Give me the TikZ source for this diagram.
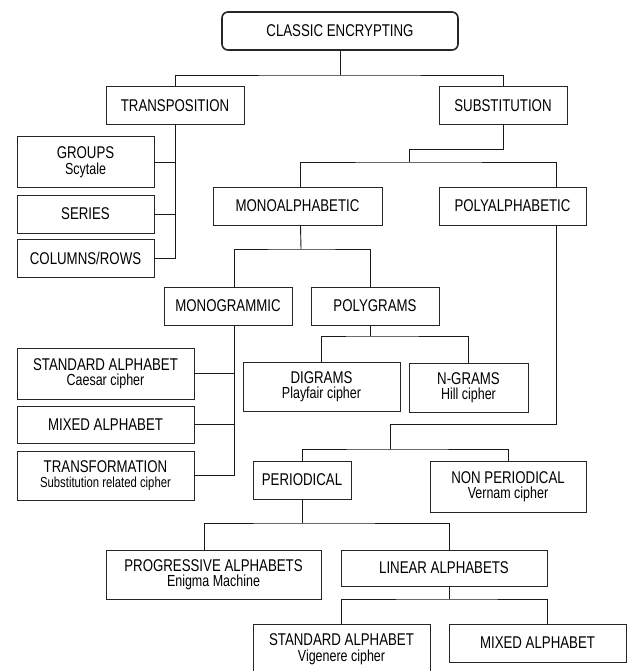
\documentclass[tikz,border=0pt]{standalone}
\usepackage{fontspec}
\setmainfont{Liberation Sans}[FakeStretch=0.78]
\newcommand\subtxt[1]{{\fontsize{16}{15}\selectfont #1}}
\tikzset{
  boite/.style={draw=black!85, line width=1pt, inner sep=0pt, align=center,
    minimum height=38pt, font=\fontsize{17}{15.5}\selectfont},
  lien/.style={draw=black!90, line width=0.9pt}
}
\begin{document}
\begin{tikzpicture}[x=1pt,y=-1pt]
            \useasboundingbox (0,0) rectangle (628,671);
            % niveau 0 et 1
            \node [boite,rounded corners=6pt,line width=1.6pt,minimum width=236pt] (titre) at (340,31) {CLASSIC ENCRYPTING};
            \node [boite,minimum width=138pt] (transp) at (175,106) {TRANSPOSITION};
            \node [boite,minimum width=128pt] (subst) at (503,106) {SUBSTITUTION};
            % transposition
            \node [boite,minimum width=137pt,minimum height=50pt] (groups) at (85.5,162) {GROUPS\\\subtxt{Scytale}};
            \node [boite,minimum width=137pt] (series) at (85.5,214) {SERIES};
            \node [boite,minimum width=137pt] (cols) at (85.5,258) {COLUMNS/ROWS};
            % substitution
            \node [boite,minimum width=169pt] (mono) at (297.5,206) {MONOALPHABETIC};
            \node [boite,minimum width=147pt] (poly) at (512.5,206) {POLYALPHABETIC};
            \node [boite,minimum width=128pt] (monogr) at (228,306) {MONOGRAMMIC};
            \node [boite,minimum width=128pt] (polygr) at (375,306) {POLYGRAMS};
            \node [boite,minimum width=177pt,minimum height=51pt] (stdalpha) at (105.5,373.5) {STANDARD ALPHABET\\\subtxt{Caesar cipher}};
            \node [boite,minimum width=177pt,minimum height=37pt] (mixalpha) at (105.5,424.5) {MIXED ALPHABET};
            \node [boite,minimum width=177pt,minimum height=49pt] (transf) at (105.5,475.5) {TRANSFORMATION\\{\fontsize{14.5}{15}\selectfont Substitution related cipher}};
            \node [boite,minimum width=157pt,minimum height=49pt] (digr) at (321.5,386.5) {DIGRAMS\\\subtxt{Playfair cipher}};
            \node [boite,minimum width=119pt,minimum height=49pt] (ngr) at (468.5,387.5) {N-GRAMS\\\subtxt{Hill cipher}};
            % polyalphabetique
            \node [boite,minimum width=98pt] (period) at (302,480) {PERIODICAL};
            \node [boite,minimum width=156pt,minimum height=51pt] (nonper) at (508,486.5) {NON PERIODICAL\\\subtxt{Vernam cipher}};
            \node [boite,minimum width=215pt,minimum height=49pt] (progr) at (213.5,574.5) {PROGRESSIVE ALPHABETS\\\subtxt{Enigma Machine}};
            \node [boite,minimum width=206pt,minimum height=36pt] (linear) at (444,568) {LINEAR ALPHABETS};
            \node [boite,minimum width=177pt,minimum height=50pt] (stdvig) at (341.5,649) {STANDARD ALPHABET\\\subtxt{Vigenere cipher}};
            \node [boite,minimum width=177pt] (mixvig) at (537.5,643) {MIXED ALPHABET};
            % liaisons
            \coordinate (j1) at (340,75);
            \draw [lien] (titre.south) -- (j1);
            \draw [lien] (transp.north) |- (j1) -| (subst.north);
            \draw [lien] (transp.south) |- (cols.east);
            \draw [lien] (groups.east) -- (groups.east -| transp.south);
            \draw [lien] (series.east) -- (series.east -| transp.south);
            \coordinate (j2) at (409,149);
            \coordinate (j3) at (409,162);
            \coordinate (p2) at ([xshift=43.5pt]poly.south);
            \draw [lien] (subst.south) |- (j2) -- (j3);
            \draw [lien] ([xshift=3pt]mono.north) |- (j3) -| ([xshift=43.5pt]poly.north);
            \coordinate (j4) at (301,249);
            \coordinate (m1) at ([xshift=6pt]monogr.south);
            \coordinate (p1) at ([xshift=-5pt]polygr.south);
            \draw [lien] ([xshift=3pt]mono.south) -- (j4);
            \draw [lien] ([xshift=6pt]monogr.north) |- (j4) -| ([xshift=-5pt]polygr.north);
            \draw [lien] (m1) |- (transf.east);
            \draw [lien] (stdalpha.east) -- (stdalpha.east -| m1);
            \draw [lien] (mixalpha.east) -- (mixalpha.east -| m1);
            \coordinate (j5) at (370,336);
            \draw [lien] (p1) -- (j5);
            \draw [lien] (digr.north) |- (j5) -| (ngr.north);
            \coordinate (j6) at (390,424);
            \coordinate (j7) at (390,449);
            \draw [lien] (p2) |- (j6) -- (j7);
            \draw [lien] (period.north) |- (j7) -| (nonper.north);
            \coordinate (j8) at (302,523);
            \draw [lien] (period.south) -- (j8);
            \draw [lien] ([xshift=-9.5pt]progr.north) |- (j8) -| ([xshift=5pt]linear.north);
            \coordinate (j9) at (449,599);
            \draw [lien] ([xshift=5pt]linear.south) -- (j9);
            \draw [lien] (stdvig.north) |- (j9) -| ([xshift=9.5pt]mixvig.north);
        \end{tikzpicture}
\end{document}
